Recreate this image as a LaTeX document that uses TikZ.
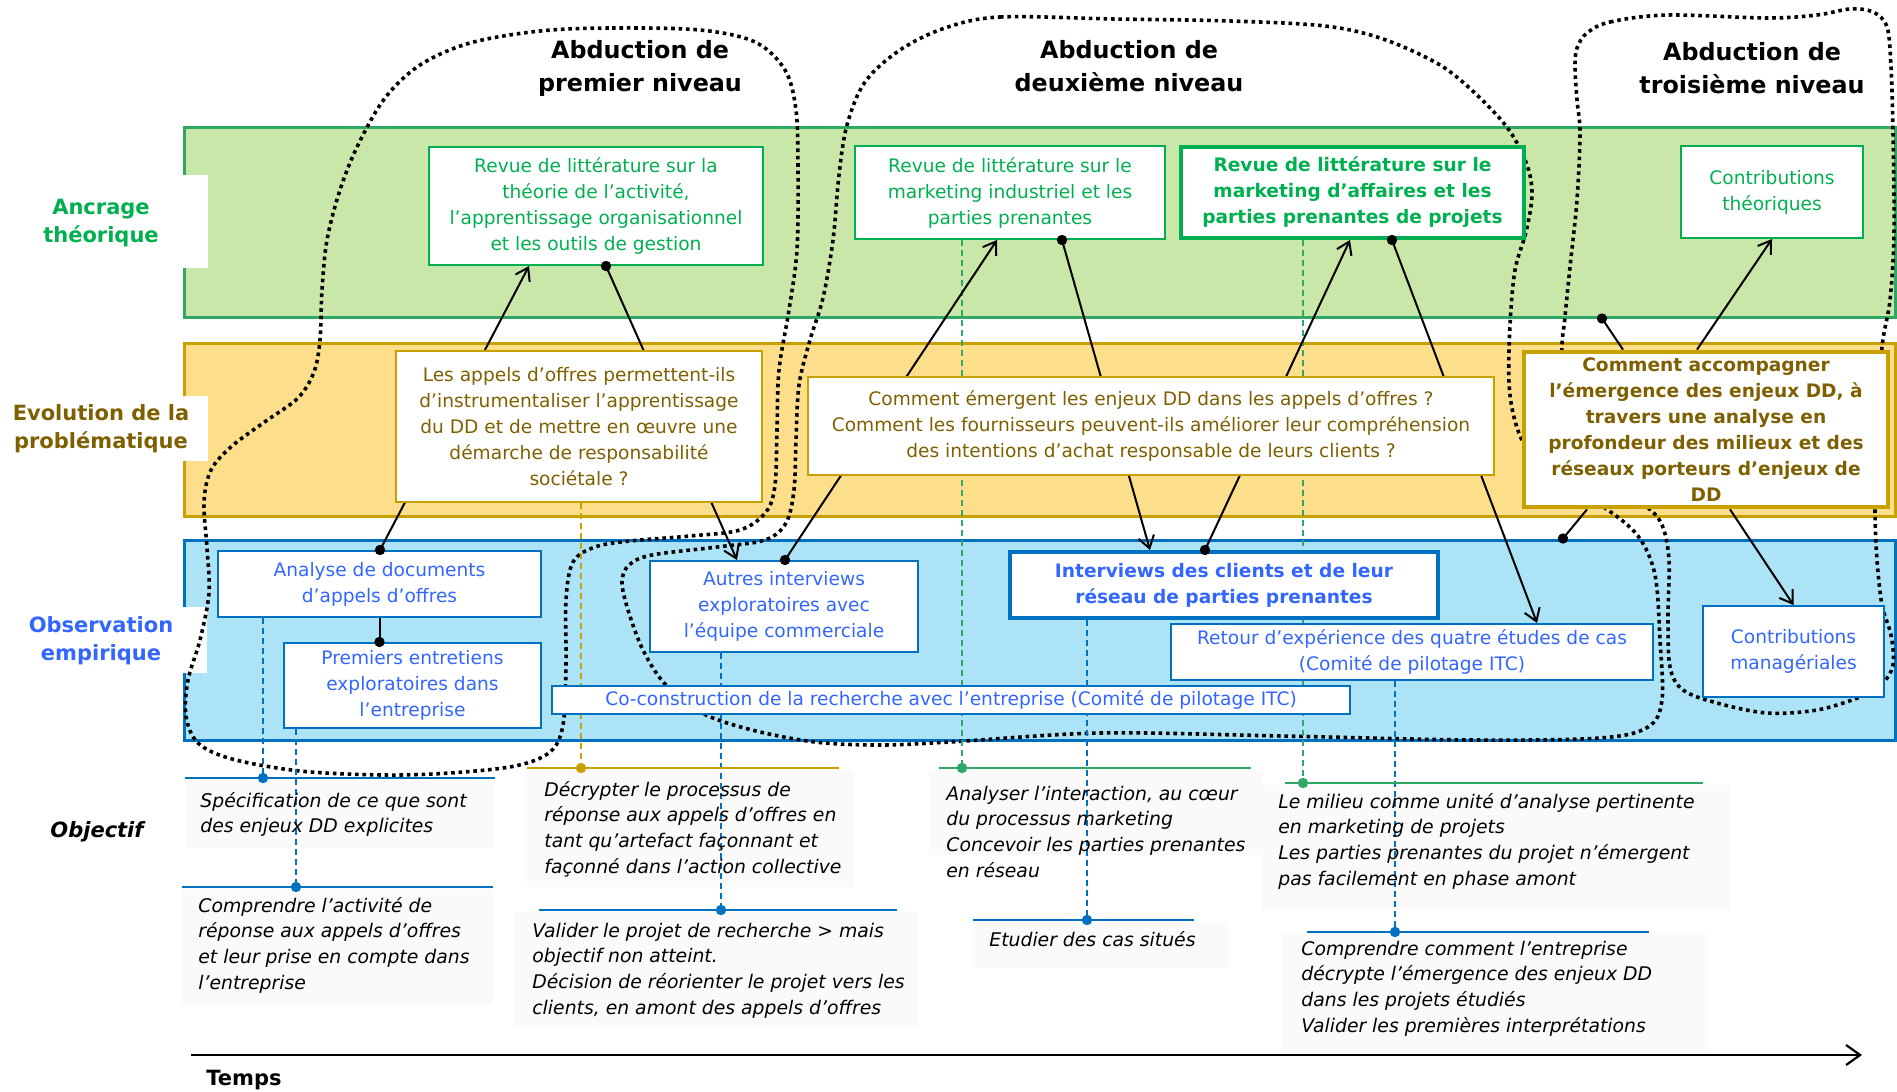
\documentclass[tikz,border=0pt]{standalone}
\usepackage{fontspec}
\setmainfont{DejaVu Sans}
\usetikzlibrary{arrows.meta}
\definecolor{gfill}{RGB}{201,231,168}
\definecolor{gline}{RGB}{46,168,100}
\definecolor{ggreen}{RGB}{0,176,80}
\definecolor{yfill}{RGB}{253,222,138}
\definecolor{yline}{RGB}{200,160,0}
\definecolor{olive}{RGB}{127,96,0}
\definecolor{bfill}{RGB}{173,227,247}
\definecolor{bline}{RGB}{0,112,192}
\definecolor{tblue}{RGB}{51,102,255}
\definecolor{objbg}{RGB}{250,250,250}
\pgfdeclarelayer{bg}
\pgfdeclarelayer{mid}
\pgfdeclarelayer{fg}
\pgfsetlayers{bg,mid,main,fg}
\newcommand\mybox[7]{%
  \pgfmathsetmacro\myw{(#4-#2)*0.5}%
  \pgfmathsetmacro\myh{(#5-#3)*0.5}%
  \node[#6, minimum width=\myw pt, minimum height=\myh pt] (#1) at ({(#2+#4)/2},{(#3+#5)/2}) {#7};}
\begin{document}
\begin{tikzpicture}[x=0.5pt,y=-0.5pt,
  band/.style={line width=1.5pt, inner sep=0pt},
  bx/.style={fill=white, line width=1pt, inner sep=0pt, align=center, font=\fontsize{9.3}{13}\selectfont},
  gbx/.style={bx, draw=ggreen, text=ggreen},
  gbxb/.style={gbx, line width=2pt, font=\fontsize{9.3}{13}\selectfont\bfseries},
  ybx/.style={bx, draw=yline, text=olive},
  ybxb/.style={ybx, line width=2.4pt, font=\fontsize{9.3}{13}\selectfont\bfseries},
  bbx/.style={bx, draw=bline, text=tblue},
  bbxb/.style={bbx, line width=2pt, font=\fontsize{9.3}{13}\selectfont\bfseries},
  conn/.style={line width=1pt, black},
  arr/.style={conn, -{Straight Barb[length=6pt,width=8pt]}},
  blob/.style={line width=1.8pt, dash pattern=on 1.8pt off 1.9pt},
  dsh/.style={line width=0.8pt, dash pattern=on 3pt off 2pt},
  objl/.style={line width=1pt},
  objt/.style={anchor=north west, inner sep=0pt, align=left, font=\fontsize{9.4}{12.8}\selectfont\itshape},
  ttl/.style={font=\fontsize{11.9}{16.5}\selectfont\bfseries, align=center, inner sep=0pt},
  lbl/.style={font=\fontsize{10.5}{14}\selectfont\bfseries, align=center, inner sep=0pt}]
\useasboundingbox (0,0) rectangle (1897,1092);

% ---------- background layer: bands, tabs, labels, objective backgrounds
\begin{pgfonlayer}{bg}
\fill[white] (0,0) rectangle (1897,1092);
\mybox{gband}{184}{127}{1895}{317}{band, draw=gline, fill=gfill}{}
\mybox{yband}{184}{343}{1895}{516}{band, draw=yline, fill=yfill}{}
\mybox{bband}{184}{540}{1895}{740}{band, draw=bline, fill=bfill}{}
\fill[white] (178,175) rectangle (208,268);
\fill[white] (178,396) rectangle (208,461);
\fill[white] (178,607) rectangle (207,673);
\node[lbl, text=ggreen] (lanc) at (101,223) {Ancrage\\théorique};
\node[lbl, text=olive] (levo) at (101,429) {Evolution de la\\problématique};
\node[lbl, text=tblue] (lobs) at (101,641) {Observation\\empirique};
\node[lbl, font=\fontsize{10.5}{14}\selectfont\bfseries\itshape] (lobj) at (97,832) {Objectif};
\node[lbl] (ltemps) at (244,1080) {Temps};
\fill[objbg] (185,780) rectangle (495,848);
\fill[objbg] (182,889) rectangle (493,1004);
\fill[objbg] (527,770) rectangle (854,887);
\fill[objbg] (515,912) rectangle (918,1027);
\fill[objbg] (929,770) rectangle (1263,855);
\fill[objbg] (973,922) rectangle (1228,968);
\fill[objbg] (1262,785) rectangle (1730,910);
\fill[objbg] (1282,934) rectangle (1705,1049);
\end{pgfonlayer}

% ---------- titles
\node[ttl] (t1) at (640,68) {Abduction de\\premier niveau};
\node[ttl] (t2) at (1129,66) {Abduction de\\deuxième niveau};
\node[ttl] (t3) at (1752,68) {Abduction de\\troisième niveau};

% ---------- boxes
\mybox{b1}{429}{147}{763}{265}{gbx}{Revue de littérature sur la\\théorie de l’activité,\\l’apprentissage organisationnel\\et les outils de gestion}
\mybox{b2}{855}{146}{1165}{239}{gbx}{Revue de littérature sur le\\marketing industriel et les\\parties prenantes}
\mybox{b3}{1181}{147}{1524}{238}{gbxb}{Revue de littérature sur le\\marketing d’affaires et les\\parties prenantes de projets}
\mybox{b4}{1681}{146}{1863}{238}{gbx}{Contributions\\théoriques}
\mybox{b5}{396}{351}{762}{502}{ybx}{Les appels d’offres permettent-ils\\d’instrumentaliser l’apprentissage\\du DD et de mettre en œuvre une\\démarche de responsabilité\\sociétale ?}
\mybox{b6}{808}{377}{1494}{475}{ybx}{Comment émergent les enjeux DD dans les appels d’offres ?\\Comment les fournisseurs peuvent-ils améliorer leur compréhension\\des intentions d’achat responsable de leurs clients ?}
\mybox{b7}{1524}{352}{1888}{507}{ybxb}{Comment accompagner\\l’émergence des enjeux DD, à\\travers une analyse en\\profondeur des milieux et des\\réseaux porteurs d’enjeux de\\DD}
\mybox{b8}{218}{551}{541}{617}{bbx}{Analyse de documents\\d’appels d’offres}
\mybox{b9}{284}{643}{541}{728}{bbx}{Premiers entretiens\\exploratoires dans\\l’entreprise}
\mybox{b10}{650}{561}{918}{652}{bbx}{Autres interviews\\exploratoires avec\\l’équipe commerciale}
\mybox{b11}{552}{686}{1350}{714}{bbx}{Co-construction de la recherche avec l’entreprise (Comité de pilotage ITC)}
\mybox{b12}{1010}{552}{1438}{618}{bbxb}{Interviews des clients et de leur\\réseau de parties prenantes}
\mybox{b13}{1171}{624}{1653}{680}{bbx}{Retour d’expérience des quatre études de cas\\(Comité de pilotage ITC)}
\mybox{b14}{1703}{606}{1884}{697}{bbx}{Contributions\\managériales}

% ---------- objective anchor points
\coordinate (oA) at (263,778);
\coordinate (oB) at (296,887);
\coordinate (oC) at (581,768);
\coordinate (oD) at (721,910);
\coordinate (oE) at (962,768);
\coordinate (oF) at (1087,920);
\coordinate (oG) at (1303,783);
\coordinate (oH) at (1395,932);

% ---------- middle layer: blobs, dashed lines, connectors
\begin{pgfonlayer}{mid}
\draw[blob] plot[smooth cycle, tension=0.55] coordinates {(540,31) (612,28) (700,30) (755,42) (785,70) (796,110) (798,170) (797,250) (789,310) (779,370) (777,430) (775,485) (766,512) (740,530) (690,536) (630,541) (595,547) (573,562) (566,600) (566,665) (563,725) (550,752) (515,766) (450,773) (383,775) (300,771) (232,759) (198,743) (186,716) (188,680) (200,640) (209,593) (207,548) (204,502) (211,470) (232,446) (266,421) (298,398) (314,372) (320,340) (322,290) (327,240) (340,190) (358,145) (385,98) (420,65) (470,43)};
\draw[blob] plot[smooth cycle, tension=0.55] coordinates {(945,28) (1000,17) (1115,19) (1230,21) (1325,26) (1383,39) (1440,65) (1478,96) (1509,130) (1527,165) (1532,195) (1526,232) (1515,270) (1510,325) (1509,383) (1515,421) (1528,450) (1560,482) (1605,508) (1638,536) (1655,575) (1660,640) (1662,700) (1648,727) (1600,738) (1472,740) (1282,736) (1100,733) (950,742) (880,745) (815,742) (752,730) (702,713) (665,684) (643,650) (628,610) (622,582) (629,565) (652,555) (717,547) (765,540) (786,523) (794,490) (796,440) (799,385) (810,340) (823,298) (833,240) (839,175) (847,125) (865,82) (900,50)};
\draw[blob] plot[smooth cycle, tension=0.55] coordinates {(1587,33) (1610,22) (1667,15) (1767,18) (1817,15) (1850,9) (1873,12) (1887,27) (1891,67) (1893,133) (1894,233) (1890,300) (1882,347) (1876,430) (1875,510) (1877,560) (1882,605) (1891,635) (1893,665) (1882,684) (1860,697) (1817,710) (1767,713) (1717,703) (1683,690) (1670,667) (1668,617) (1669,560) (1662,525) (1645,505) (1600,470) (1570,420) (1562,355) (1565,317) (1570,267) (1577,200) (1580,133) (1577,100) (1575,67) (1577,48)};
% dashed drop lines
\draw[dsh, bline] (b8.south -| oA) -- (oA);
\draw[dsh, bline] (b9.south -| oB) -- (oB);
\draw[dsh, yline] (b5.south -| oC) -- (oC);
\draw[dsh, bline] (b10.south -| oD) -- (oD);
\draw[dsh, gline] (b2.south -| oE) -- (oE);
\draw[dsh, bline] (b12.south -| oF) -- (oF);
\draw[dsh, gline] (b3.south -| oG) -- (oG);
\draw[dsh, bline] (b13.south -| oH) -- (oH);
% connectors
\draw[arr] ([xshift=0.25pt]b8.north) -- ([xshift=-33.5pt]b1.south);
\draw[arr] ([xshift=5pt]b1.south) -- ([xshift=-23.5pt]b10.north);
\draw[arr] ([xshift=0.5pt]b10.north) -- ([xshift=-6.5pt]b2.south);
\draw[arr] ([xshift=26pt]b2.south) -- ([xshift=-37pt]b12.north);
\draw[arr] ([xshift=-9.5pt]b12.north) -- ([xshift=-1.25pt]b3.south);
\draw[arr] ([xshift=19.75pt]b3.south) -- ([xshift=62.5pt]b13.north);
\draw[conn] ([xshift=281.25pt]gband.south) -- ([xshift=-41.5pt]b7.north);
\draw[arr] ([xshift=-4.5pt]b7.north) -- (b4.south);
\draw[conn] ([xshift=261.75pt]bband.north) -- ([xshift=-59.5pt]b7.south);
\draw[arr] ([xshift=12pt]b7.south) -- (b14.north);
\draw[conn] (b8.south) -- (b8.south |- b9.north);
\end{pgfonlayer}

% ---------- objective lines and texts
\draw[objl, bline] (185,778) -- (495,778);
\draw[objl, bline] (182,887) -- (493,887);
\draw[objl, yline] (527,768) -- (839,768);
\draw[objl, bline] (539,910) -- (897,910);
\draw[objl, gline] (939,768) -- (1251,768);
\draw[objl, bline] (973,920) -- (1194,920);
\draw[objl, gline] (1285,783) -- (1703,783);
\draw[objl, bline] (1307,932) -- (1649,932);

\node[objt] (txA) at (200,789) {\strut Spécification de ce que sont\\des enjeux DD explicites};
\node[objt] (txB) at (198,894) {\strut Comprendre l’activité de\\réponse aux appels d’offres\\et leur prise en compte dans\\l’entreprise};
\node[objt] (txC) at (544,778) {\strut Décrypter le processus de\\réponse aux appels d’offres en\\tant qu’artefact façonnant et\\façonné dans l’action collective};
\node[objt] (txD) at (532,919) {\strut Valider le projet de recherche > mais\\objectif non atteint.\\Décision de réorienter le projet vers les\\clients, en amont des appels d’offres};
\node[objt] (txE) at (946,782) {\strut Analyser l’interaction, au cœur\\du processus marketing\\Concevoir les parties prenantes\\en réseau};
\node[objt] (txF) at (989,928) {\strut Etudier des cas situés};
\node[objt] (txG) at (1278,790) {\strut Le milieu comme unité d’analyse pertinente\\en marketing de projets\\Les parties prenantes du projet n’émergent\\pas facilement en phase amont};
\node[objt] (txH) at (1301,937) {\strut Comprendre comment l’entreprise\\décrypte l’émergence des enjeux DD\\dans les projets étudiés\\Valider les premières interprétations};

% time axis
\coordinate (ta) at (191,1055);
\coordinate (tb) at (1862,1055);
\draw[line width=1.1pt, -{Straight Barb[length=7pt,width=10pt]}] (ta) -- (tb);

% ---------- foreground dots
\begin{pgfonlayer}{fg}
\fill ([xshift=0.25pt]b8.north) circle (2.6pt);
\fill ([xshift=5pt]b1.south) circle (2.6pt);
\fill ([xshift=0.5pt]b10.north) circle (2.6pt);
\fill ([xshift=26pt]b2.south) circle (2.6pt);
\fill ([xshift=-9.5pt]b12.north) circle (2.6pt);
\fill ([xshift=19.75pt]b3.south) circle (2.6pt);
\fill ([xshift=281.25pt]gband.south) circle (2.6pt);
\fill ([xshift=261.75pt]bband.north) circle (2.6pt);
\fill (b8.south |- b9.north) circle (2.6pt);
\fill[bline] (oA) circle (2.6pt);
\fill[bline] (oB) circle (2.6pt);
\fill[yline] (oC) circle (2.6pt);
\fill[bline] (oD) circle (2.6pt);
\fill[gline] (oE) circle (2.6pt);
\fill[bline] (oF) circle (2.6pt);
\fill[gline] (oG) circle (2.6pt);
\fill[bline] (oH) circle (2.6pt);
\end{pgfonlayer}
\end{tikzpicture}
\end{document}
